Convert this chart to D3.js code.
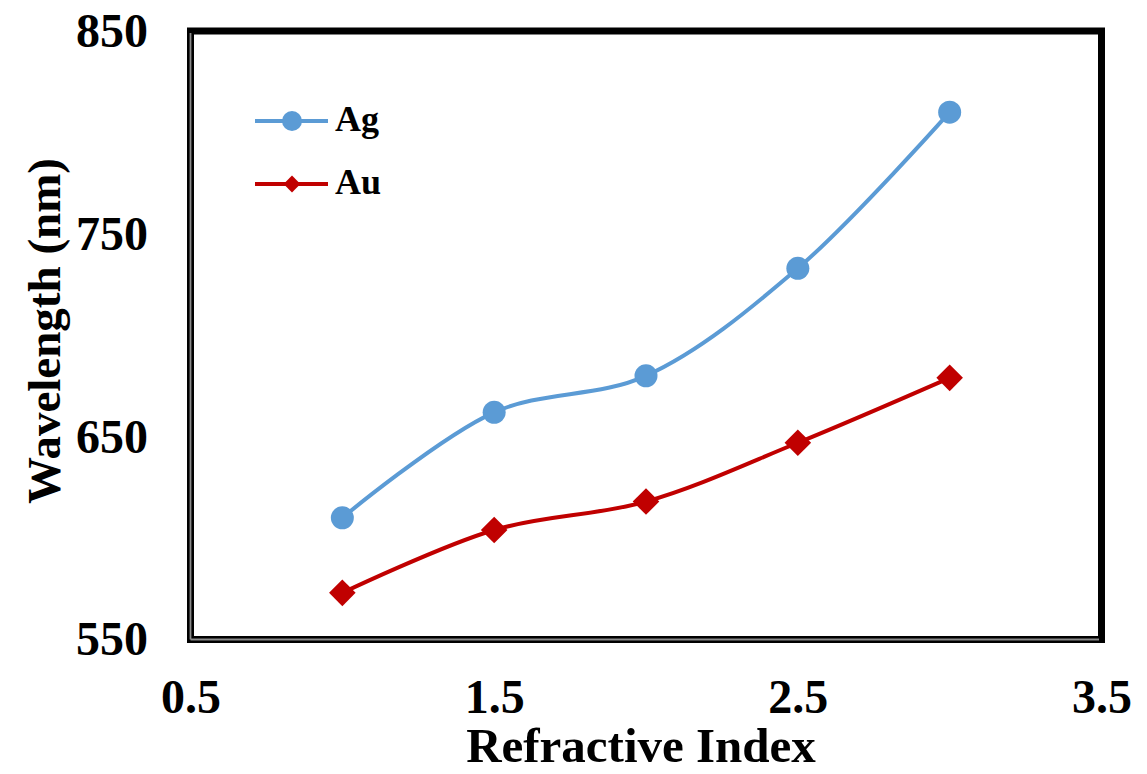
<!DOCTYPE html>
<html><head><meta charset="utf-8">
<script src="https://cdn.jsdelivr.net/npm/d3@7"></script>
<style>html,body{margin:0;padding:0;background:#fff;}svg{display:block;}</style>
</head><body>
<svg id="chart" width="1147" height="774"></svg>
<script>
const refractiveIndex = [1, 1.5, 2, 2.5, 3];
const agWavelength = [610, 662, 680, 733, 810];
const auWavelength = [573, 604, 618, 647, 679];
const xTicks = [0.5, 1.5, 2.5, 3.5];
const yTicks = [550, 650, 750, 850];
const seriesNames = ["Ag", "Au"];

const svg = d3.select("#chart");
const font = "'Liberation Serif', 'Times New Roman', serif";
const x = d3.scaleLinear().domain([0.5, 3.5]).range([190.5, 1101.5]);
const y = d3.scaleLinear().domain([550, 850]).range([639.5, 31]);

// frame
svg.append("rect").attr("x", 190.5).attr("y", 31).attr("width", 911).attr("height", 608.5)
  .attr("fill", "none").attr("stroke", "#000").attr("stroke-width", 7);
svg.append("line").attr("x1", 190.5).attr("x2", 190.5).attr("y1", 33).attr("y2", 639.5)
  .attr("stroke", "#8a8a8a").attr("stroke-width", 1.8);
svg.append("line").attr("x1", 190.5).attr("x2", 1099).attr("y1", 639.5).attr("y2", 639.5)
  .attr("stroke", "#8a8a8a").attr("stroke-width", 1.8);

// axes (labels only)
const xAxis = d3.axisBottom(x).tickValues(xTicks).tickSize(0).tickPadding(0).tickFormat(d3.format(".1f"));
const gx = svg.append("g").attr("transform", "translate(0,713)").call(xAxis);
gx.select(".domain").remove();
gx.selectAll("text").attr("dy", 0).attr("y", 0)
  .style("font-family", font).style("font-weight", "bold").style("font-size", "48px").attr("fill", "#000");

const yAxis = d3.axisLeft(y).tickValues(yTicks).tickSize(0).tickPadding(0).tickFormat(d3.format("d"));
const gy = svg.append("g").attr("transform", "translate(148,0)").call(yAxis);
gy.select(".domain").remove();
gy.selectAll("text").attr("x", 0).attr("dy", "0.32em")
  .style("font-family", font).style("font-weight", "bold").style("font-size", "48px").attr("fill", "#000");

// titles
svg.append("text").attr("x", 641).attr("y", 762).attr("text-anchor", "middle")
  .style("font-family", font).style("font-weight", "bold").style("font-size", "49px").text("Refractive Index");
svg.append("text").attr("transform", "translate(60,331) rotate(-90)").attr("text-anchor", "middle")
  .style("font-family", font).style("font-weight", "bold").style("font-size", "47px").text("Wavelength (nm)");

// series
const series = [
  {name: seriesNames[0], values: agWavelength, color: "#5B9BD5", marker: "circle"},
  {name: seriesNames[1], values: auWavelength, color: "#C00000", marker: "diamond"}
];
const line = d3.line().x(d => x(d[0])).y(d => y(d[1])).curve(d3.curveCatmullRom.alpha(0.5));

series.forEach(s => {
  const pts = refractiveIndex.map((r, i) => [r, s.values[i]]);
  svg.append("path").datum(pts).attr("d", line).attr("fill", "none")
    .attr("stroke", s.color).attr("stroke-width", 4);
  const sym = s.marker === "circle" ? d3.symbol().type(d3.symbolCircle).size(Math.PI * 11.5 * 11.5)
                                    : d3.symbol().type(d3.symbolDiamond2).size(2 * 15 * 15);
  svg.selectAll(null).data(pts).enter().append("path")
    .attr("d", sym).attr("transform", d => `translate(${x(d[0])},${y(d[1])})`).attr("fill", s.color);
});

// legend
const legendY = [121, 184];
series.forEach((s, i) => {
  const g = svg.append("g").attr("transform", `translate(0,${legendY[i]})`);
  g.append("line").attr("x1", 255).attr("x2", 328).attr("y1", 0).attr("y2", 0)
    .attr("stroke", s.color).attr("stroke-width", 4);
  const sym = s.marker === "circle" ? d3.symbol().type(d3.symbolCircle).size(Math.PI * 10 * 10)
                                    : d3.symbol().type(d3.symbolDiamond2).size(2 * 9.5 * 9.5);
  g.append("path").attr("d", sym).attr("transform", "translate(292,0)").attr("fill", s.color);
  g.append("text").attr("x", 335).attr("y", 10).style("font-family", font).style("font-weight", "bold")
    .style("font-size", "36px").text(s.name);
});
</script>
</body></html>
